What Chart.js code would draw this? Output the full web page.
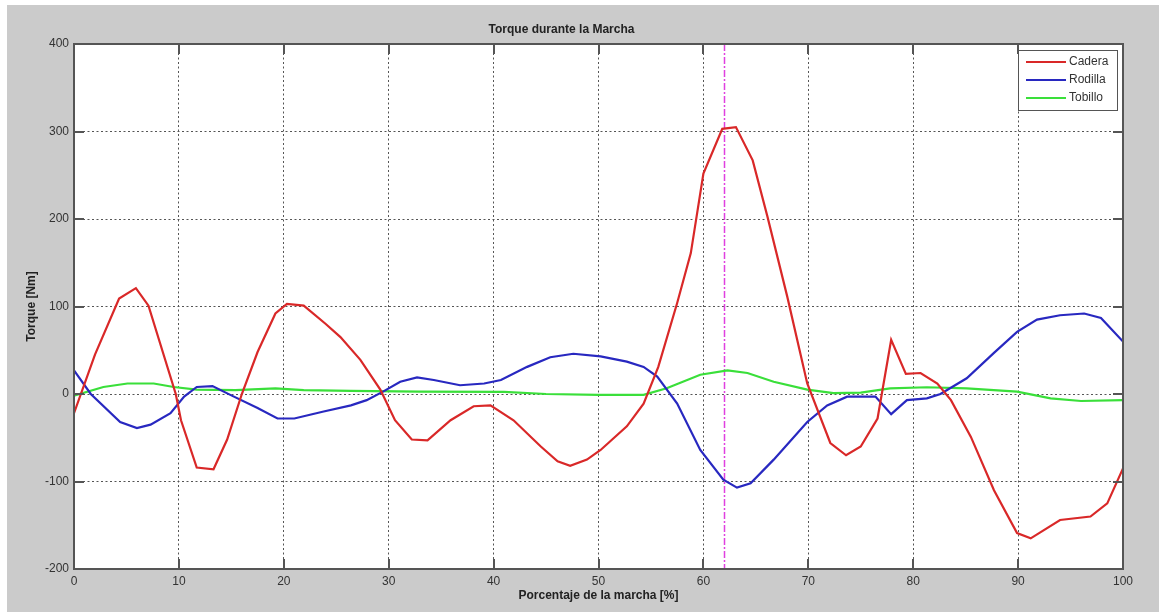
<!DOCTYPE html>
<html><head><meta charset="utf-8">
<script src="https://cdn.jsdelivr.net/npm/chart.js@4/dist/chart.umd.min.js"></script>
<style>html,body{margin:0;padding:0;background:#fff;overflow:hidden}#wrap{width:1159px;height:612px}</style>
</head><body><div id="wrap"><canvas id="c" width="1159" height="612"></canvas></div>
<script>
const chartTitle = 'Torque durante la Marcha';
const xLabel = 'Porcentaje de la marcha [%]';
const yLabel = 'Torque [Nm]';
const seriesNames = ['Cadera', 'Rodilla', 'Tobillo'];
const seriesColors = ['#d92828', '#2828c0', '#3adf3a'];

const caderaX = [0,2,4.3,5.9,7.1,9.7,10.2,11.7,13.3,14.6,16.0,17.5,19.2,20.3,21.9,24,25.4,27.3,29.2,30.6,32.2,33.7,35.9,38.1,39.7,41.9,44.5,46.1,47.3,48.9,50.2,52.7,54.3,55.7,57.5,58.8,60.0,61.8,63.1,64.7,66.1,68.0,69.9,72.1,73.6,75.0,76.6,77.9,79.3,80.7,82.3,83.6,85.5,87.7,89.9,91.2,94.0,96.9,98.5,100];
const caderaY = [-22,45,109,121,101,0,-30,-84,-86,-52,0,48,92,103,101,80,65,39,5,-30,-52,-53,-30,-14,-13,-30,-60,-77,-82,-75,-64,-37,-11,31,104,161,252,303,305,267,203,111,12,-56,-70,-60,-28,62,23,24,12,-7,-49,-110,-159,-165,-144,-140,-125,-85];

const rodillaX = [0,1.6,4.4,6.0,7.3,9.2,10.5,11.7,13.2,14.9,17.5,19.4,21,23.8,26.4,27.9,29.5,31.1,32.7,34.3,36.8,39.1,40.7,43.2,45.4,47.6,50.2,52.7,54.3,55.6,57.5,59.7,61.9,63.2,64.5,66.7,69.9,71.8,73.7,76.4,77.9,79.4,81.3,82.6,85.1,87.7,89.9,91.8,94.0,96.3,97.9,100];
const rodillaY = [27,0,-32,-39,-35,-22,-3,8,9,-1,-16,-28,-28,-20,-13,-7,3,14,19,16,10,12,16,31,42,46,43,37,31,20,-11,-64,-98,-107,-102,-75,-32,-13,-3,-3,-23,-7,-5,0,18,47,71,85,90,92,87,60];

const tobilloX = [0,2.8,5.1,7.6,9.5,11.7,15.4,19.2,21.9,26.4,33,41,45,50,54.3,56.5,59.7,62.3,64.2,66.7,69.9,72.4,75,77.8,81.3,85.1,89.9,93.1,96,100];
const tobilloY = [-2,8,12,12,8,5,4.5,6.5,4.5,3.5,2.7,2.5,0,-1,-1,6.5,22,27,24,14,5,1,1.5,6.5,7.7,6.5,2.7,-5,-8,-7];

const markerX = 62;
const xTicks = [0,10,20,30,40,50,60,70,80,90,100];
const yTicks = [-200,-100,0,100,200,300,400];

function pts(xs, ys){ return xs.map((x,i)=>({x:x, y:ys[i]})); }

const FONT = "'Liberation Sans', Arial, sans-serif";

const decor = {
  id: 'decor',
  beforeDraw(chart){
    const c = chart.ctx, a = chart.chartArea;
    c.save();
    c.fillStyle = '#ffffff';
    c.fillRect(0,0,chart.width,chart.height);
    c.fillStyle = '#cbcbcb';
    c.fillRect(7,5,chart.width-7,chart.height-5);
    c.fillStyle = '#ffffff';
    c.fillRect(a.left,a.top,a.right-a.left,a.bottom-a.top);
    c.restore();
  },
  beforeDatasetsDraw(chart){
    const c = chart.ctx, a = chart.chartArea, xs = chart.scales.x;
    const px = Math.round(xs.getPixelForValue(markerX)) + 0.5;
    c.save();
    c.strokeStyle = '#e040e0';
    c.lineWidth = 1.5;
    c.setLineDash([7,2,2,2]);
    c.beginPath(); c.moveTo(px,a.top); c.lineTo(px,a.bottom); c.stroke();
    c.restore();
  },
  afterDraw(chart){
    const c = chart.ctx, a = chart.chartArea, xs = chart.scales.x, ys = chart.scales.y;
    c.save();
    c.strokeStyle = '#555';
    c.lineWidth = 2;
    const L = 10;
    c.beginPath();
    xTicks.forEach(v=>{
      const p = Math.round(xs.getPixelForValue(v));
      c.moveTo(p,a.bottom); c.lineTo(p,a.bottom-L);
      c.moveTo(p,a.top); c.lineTo(p,a.top+L);
    });
    yTicks.forEach(v=>{
      const p = Math.round(ys.getPixelForValue(v));
      c.moveTo(a.left,p); c.lineTo(a.left+L,p);
      c.moveTo(a.right,p); c.lineTo(a.right-L,p);
    });
    c.stroke();
    c.lineWidth = 2;
    c.strokeRect(a.left,a.top,a.right-a.left,a.bottom-a.top);
    // legend
    const bx = 1018, by = 50, bw = 99, bh = 60;
    c.fillStyle = '#fff';
    c.fillRect(bx,by,bw,bh);
    c.lineWidth = 1;
    c.strokeStyle = '#555';
    c.strokeRect(bx+0.5,by+0.5,bw,bh);
    c.font = '12px ' + FONT;
    c.textBaseline = 'middle';
    c.textAlign = 'left';
    chart.data.datasets.forEach((ds,i)=>{
      const y = by + 12 + i*18;
      c.strokeStyle = ds.borderColor;
      c.lineWidth = 2;
      c.beginPath(); c.moveTo(bx+8,y); c.lineTo(bx+48,y); c.stroke();
      c.fillStyle = '#333';
      c.fillText(ds.label, bx+51, y);
    });
    c.restore();
  }
};

const datasets = [
  {label: seriesNames[0], data: pts(caderaX, caderaY), borderColor: seriesColors[0]},
  {label: seriesNames[1], data: pts(rodillaX, rodillaY), borderColor: seriesColors[1]},
  {label: seriesNames[2], data: pts(tobilloX, tobilloY), borderColor: seriesColors[2]}
].map(d=>Object.assign(d,{borderWidth:2.2, pointRadius:0, tension:0, fill:false, backgroundColor:d.borderColor}));

new Chart(document.getElementById('c'), {
  type: 'line',
  data: {datasets},
  options: {
    responsive: false,
    animation: false,
    devicePixelRatio: 1,
    layout: {padding: {left:0, right:36, top:0, bottom:0}},
    plugins: {
      legend: {display:false},
      tooltip: {enabled:false},
      title: {display:true, text: chartTitle, color:'#222', font:{family:FONT, size:12, weight:'bold'}, padding:{top:22,bottom:7.6}}
    },
    scales: {
      x: {
        type:'linear', min:0, max:100,
        afterBuildTicks(s){ s.ticks = xTicks.map(v=>({value:v})); },
        afterFit(s){ s.height = 43; },
        grid: {color:'#555', lineWidth:1, drawTicks:false},
        border: {display:false, dash:[2,2.5]},
        ticks: {color:'#333', padding:5, font:{family:FONT, size:12}, maxRotation:0},
        title: {display:true, text:xLabel, color:'#222', font:{family:FONT, size:12, weight:'bold'}, padding:{top:0,bottom:8.8}}
      },
      y: {
        type:'linear', min:-200, max:400,
        afterBuildTicks(s){ s.ticks = yTicks.map(v=>({value:v})); },
        afterFit(s){ s.width = 74; },
        grid: {color:'#555', lineWidth:1, drawTicks:false},
        border: {display:false, dash:[2,2.5]},
        ticks: {color:'#333', padding:5, font:{family:FONT, size:12}},
        title: {display:true, text:yLabel, color:'#222', font:{family:FONT, size:12, weight:'bold'}, padding:{top:24.8,bottom:0}}
      }
    }
  },
  plugins: [decor]
});
</script></body></html>
